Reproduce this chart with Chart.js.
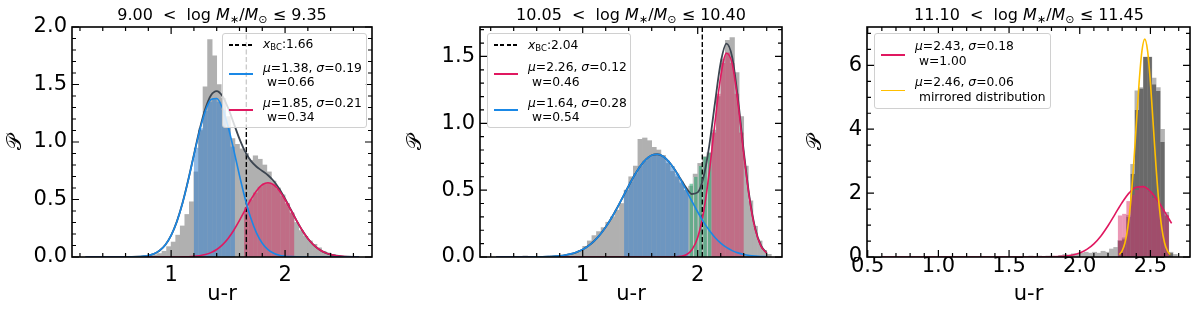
<!DOCTYPE html>
<html>
<head>
<meta charset="utf-8">
<script src="https://cdn.jsdelivr.net/npm/chart.js@4.4.1/dist/chart.umd.min.js"></script>
<style>
  body { margin: 0; background: #fff; font-family: "DejaVu Sans", sans-serif; }
  #wrap { position: relative; width: 1200px; height: 310px; overflow: hidden; }
  canvas { position: absolute; top: 0; }
  .ttl { position: absolute; top: 5px; font-size: 16px; line-height: 20px; white-space: nowrap; transform: translateX(-50%); color: #000; }
  .ttl sub { font-size: 11px; vertical-align: -3px; line-height: 0; }
  .lg { position: absolute; box-sizing: border-box; background: rgba(255,255,255,0.8); border: 1px solid #d0d0d0; border-radius: 3px; font-size: 12.3px; color: #000; }
  .lg .ln { position: absolute; left: 6px; width: 24px; height: 1.6px; }
  .lg .dash { background: repeating-linear-gradient(to right, #000 0 4px, transparent 4px 6.5px); }
  .lg .tx { position: absolute; left: 40px; line-height: 14.7px; white-space: nowrap; }
  .lg sub { font-size: 8.5px; vertical-align: -2px; line-height: 0; }
</style>
</head>
<body>
<div id="wrap">
  <canvas id="c1" width="400" height="310" style="left:0"></canvas>
  <canvas id="c2" width="400" height="310" style="left:400px"></canvas>
  <canvas id="c3" width="400" height="310" style="left:800px"></canvas>

  <div class="ttl" style="left:222px">9.00&nbsp;&nbsp;&lt;&nbsp;&nbsp;log <i>M</i><sub>∗</sub>/<i>M</i><sub>⊙</sub> ≤ 9.35</div>
  <div class="ttl" style="left:631px">10.05&nbsp;&nbsp;&lt;&nbsp;&nbsp;log <i>M</i><sub>∗</sub>/<i>M</i><sub>⊙</sub> ≤ 10.40</div>
  <div class="ttl" style="left:1029px">11.10&nbsp;&nbsp;&lt;&nbsp;&nbsp;log <i>M</i><sub>∗</sub>/<i>M</i><sub>⊙</sub> ≤ 11.45</div>

  <div class="lg" style="left:222px;top:33px;width:145px;height:95px">
    <div class="ln dash" style="top:10px"></div>
    <div class="tx" style="top:3px"><i>x</i><sub>BC</sub>:1.66</div>
    <div class="ln" style="top:39px;background:#1a88e6"></div>
    <div class="tx" style="top:26.5px"><i>μ</i>=1.38, <i>σ</i>=0.19<br>&nbsp;w=0.66</div>
    <div class="ln" style="top:75px;background:#e01860"></div>
    <div class="tx" style="top:61.5px"><i>μ</i>=1.85, <i>σ</i>=0.21<br>&nbsp;w=0.34</div>
  </div>
  <div class="lg" style="left:487px;top:33px;width:144px;height:95px">
    <div class="ln dash" style="top:10px"></div>
    <div class="tx" style="top:3.5px"><i>x</i><sub>BC</sub>:2.04</div>
    <div class="ln" style="top:39px;background:#e01860"></div>
    <div class="tx" style="top:26px"><i>μ</i>=2.26, <i>σ</i>=0.12<br>&nbsp;w=0.46</div>
    <div class="ln" style="top:75px;background:#1a88e6"></div>
    <div class="tx" style="top:61.5px"><i>μ</i>=1.64, <i>σ</i>=0.28<br>&nbsp;w=0.54</div>
  </div>
  <div class="lg" style="left:874px;top:33px;width:177px;height:76px">
    <div class="ln" style="top:20px;background:#e01860"></div>
    <div class="tx" style="top:5px"><i>μ</i>=2.43, <i>σ</i>=0.18<br>&nbsp;w=1.00</div>
    <div class="ln" style="top:55.5px;background:#ffbf00"></div>
    <div class="tx" style="top:41px"><i>μ</i>=2.46, <i>σ</i>=0.06<br>&nbsp;mirrored distribution</div>
  </div>
</div>

<script>
// ---------- panel 1 : 9.00 < log M <= 9.35 ----------
const binX1 = [0.70,0.74,0.78,0.82,0.86,0.90,0.94,0.98,1.02,1.06,1.10,1.14,1.18,1.22,1.26,1.30,1.34,1.38,1.42,1.46,1.50,1.54,1.58,1.62,1.66,1.70,1.74,1.78,1.82,1.86,1.90,1.94,1.98,2.02,2.06,2.10,2.14,2.18,2.22,2.26,2.30,2.34,2.38,2.42,2.46];
const hist1 = [0.004,0.006,0.01,0.012,0.02,0.03,0.05,0.09,0.13,0.19,0.27,0.37,0.48,0.74,1.10,1.48,1.89,1.75,1.50,1.38,1.22,1.03,0.98,0.94,0.90,0.84,0.88,0.85,0.80,0.74,0.66,0.60,0.54,0.46,0.38,0.30,0.23,0.18,0.14,0.11,0.08,0.05,0.035,0.02,0.01];
const blueX1 = [1.22,1.26,1.30,1.34,1.38,1.42,1.46,1.50,1.54];
const blueBars1 = [0.95,1.12,1.27,1.35,1.38,1.35,1.28,1.13,0.96];
const redX1 = [1.66,1.70,1.74,1.78,1.82,1.86,1.90,1.94,1.98,2.02,2.06];
const redBars1 = [0.43,0.50,0.56,0.61,0.64,0.645,0.63,0.59,0.53,0.47,0.39];
const curveX1 = [0.25,0.30,0.35,0.40,0.45,0.50,0.55,0.60,0.65,0.70,0.75,0.80,0.85,0.90,0.95,1.00,1.05,1.10,1.15,1.20,1.25,1.30,1.35,1.40,1.45,1.50,1.55,1.60,1.65,1.70,1.75,1.80,1.85,1.90,1.95,2.00,2.05,2.10,2.15,2.20,2.25,2.30,2.35,2.40,2.45,2.50,2.55,2.60,2.65];
const blueCurve1 = [0,0,0,0,0,0,0,0.0003,0.0009,0.0023,0.0057,0.013,0.028,0.057,0.107,0.188,0.307,0.468,0.666,0.885,1.097,1.268,1.369,1.378,1.295,1.135,0.929,0.709,0.505,0.336,0.208,0.120,0.065,0.033,0.015,0.007,0.003,0.001,0,0,0,0,0,0,0,0,0,0,0];
const redCurve1 = [0,0,0,0,0,0,0,0,0,0,0,0,0,0,0,0,0.0005,0.001,0.0025,0.0054,0.011,0.021,0.038,0.065,0.105,0.161,0.233,0.318,0.410,0.500,0.577,0.628,0.646,0.628,0.577,0.500,0.410,0.318,0.233,0.161,0.105,0.065,0.038,0.021,0.011,0.0054,0.0025,0.001,0.0005];
const totalCurve1 = [0,0,0,0,0,0,0,0.0003,0.0009,0.0023,0.0057,0.013,0.028,0.057,0.107,0.188,0.308,0.469,0.669,0.890,1.108,1.289,1.407,1.443,1.400,1.296,1.162,1.027,0.915,0.836,0.785,0.748,0.711,0.661,0.592,0.507,0.413,0.319,0.233,0.161,0.105,0.065,0.038,0.021,0.011,0.0054,0.0025,0.001,0.0005];
const xbc1 = 1.66;
const xTicks1 = [1, 2];
const yTicks1 = [0, 0.5, 1.0, 1.5, 2.0];

// ---------- panel 2 : 10.05 < log M <= 10.40 ----------
const binX2 = [0.50,0.70,0.74,0.78,0.82,0.86,0.90,0.94,0.98,1.02,1.06,1.10,1.14,1.18,1.22,1.26,1.30,1.34,1.38,1.42,1.46,1.50,1.54,1.58,1.62,1.66,1.70,1.74,1.78,1.82,1.86,1.90,1.94,1.98,2.02,2.06,2.10,2.14,2.18,2.22,2.26,2.30,2.34,2.38,2.42,2.46,2.50,2.54,2.58,2.62];
const hist2 = [0.008,0.005,0.008,0.01,0.01,0.015,0.02,0.03,0.05,0.08,0.12,0.16,0.19,0.22,0.26,0.30,0.35,0.40,0.50,0.60,0.68,0.88,0.89,0.87,0.82,0.80,0.76,0.70,0.64,0.60,0.55,0.50,0.53,0.62,0.70,0.75,0.78,0.95,1.20,1.48,1.62,1.64,1.38,1.05,0.68,0.42,0.23,0.12,0.05,0.02];
const blueX2 = [1.38,1.42,1.46,1.50,1.54,1.58,1.62,1.66,1.70,1.74,1.78,1.82,1.86,1.90];
const blueBars2 = [0.50,0.565,0.625,0.68,0.72,0.75,0.767,0.767,0.75,0.72,0.68,0.625,0.565,0.50];
const greenX2 = [1.94,1.98,2.02,2.06,2.10];
const greenBars2 = [0.55,0.60,0.68,0.75,0.78];
const redX2 = [2.14,2.18,2.22,2.26,2.30,2.34,2.38];
const redBars2 = [0.93,1.22,1.45,1.53,1.45,1.22,0.93];
const curveX2 = [0.25,0.30,0.35,0.40,0.45,0.50,0.55,0.60,0.65,0.70,0.75,0.80,0.85,0.90,0.95,1.00,1.05,1.10,1.15,1.20,1.25,1.30,1.35,1.40,1.45,1.50,1.55,1.60,1.65,1.70,1.75,1.80,1.85,1.90,1.95,2.00,2.05,2.10,2.15,2.20,2.25,2.30,2.35,2.40,2.45,2.50,2.55,2.60];
const blueCurve2 = [0,0,0,0,0.0001,0.0002,0.0004,0.0008,0.0015,0.0027,0.0049,0.0085,0.0144,0.0234,0.0369,0.0564,0.0835,0.1197,0.1663,0.2237,0.2915,0.3679,0.4499,0.5327,0.6108,0.6787,0.7303,0.7612,0.7685,0.7515,0.7119,0.6531,0.5805,0.4997,0.4167,0.3365,0.2632,0.1995,0.1464,0.1041,0.0717,0.0478,0.0309,0.0193,0.0117,0.0069,0.0039,0.0022];
const redCurve2 = [0,0,0,0,0,0,0,0,0,0,0,0,0,0,0,0,0,0,0,0,0,0,0,0,0,0,0,0,0,0.0001,0.0002,0.001,0.0045,0.017,0.054,0.146,0.331,0.629,1.005,1.349,1.524,1.446,1.154,0.774,0.437,0.207,0.082,0.028];
const totalCurve2 = [0,0,0,0,0.0001,0.0002,0.0004,0.0008,0.0015,0.0027,0.0049,0.0085,0.0144,0.0234,0.0369,0.0564,0.0835,0.1197,0.1663,0.2237,0.2915,0.3679,0.4499,0.5327,0.6108,0.6787,0.7303,0.7612,0.7685,0.7516,0.7121,0.6541,0.585,0.517,0.471,0.483,0.594,0.829,1.151,1.453,1.596,1.494,1.185,0.793,0.449,0.214,0.086,0.030];
const xbc2 = 2.04;
const xTicks2 = [1, 2];
const yTicks2 = [0, 0.5, 1.0, 1.5];

// ---------- panel 3 : 11.10 < log M <= 11.45 ----------
const binX3 = [1.655,1.685,1.715,1.745,1.775,1.805,1.835,1.865,1.895,1.925,1.955,1.985,2.015,2.045,2.075,2.105,2.135,2.165,2.195,2.225,2.255,2.285,2.315,2.345,2.375,2.405,2.435,2.465,2.495,2.525,2.555,2.585,2.615,2.645,2.675];
const hist3 = [0.03,0.02,0.03,0.02,0.03,0.03,0.02,0.05,0.08,0.06,0.10,0.08,0.12,0.15,0.12,0.15,0.12,0.18,0.15,0.25,0.30,0.52,0.60,1.30,2.90,5.20,5.30,6.26,6.26,5.60,5.30,4.00,1.40,0.15,0.08];
const mirrorX3 = [2.285,2.315,2.345,2.375,2.405,2.435,2.465,2.495,2.525,2.555,2.585,2.615,2.645];
const mirror3 = [0.50,0.55,1.25,2.60,4.60,5.27,6.26,6.26,5.40,5.20,3.60,1.30,0.12];
const pinkX3 = [2.285,2.315,2.345,2.375,2.405,2.435,2.465,2.495,2.525,2.555,2.585,2.615];
const pinkBars3 = [1.30,1.35,1.75,1.95,2.10,2.20,2.15,2.05,1.85,1.75,1.50,1.30];
const redCurveX3 = [0.60,0.80,1.00,1.20,1.40,1.60,1.70,1.75,1.80,1.85,1.90,1.95,2.00,2.05,2.10,2.15,2.20,2.25,2.30,2.35,2.40,2.45,2.50,2.55,2.60,2.65];
const redCurve3 = [0,0,0,0,0,0.0001,0.0006,0.0018,0.0048,0.0123,0.029,0.063,0.128,0.239,0.413,0.661,0.980,1.344,1.707,2.008,2.185,2.202,2.055,1.774,1.419,1.050];
const yellowX3 = [2.28,2.30,2.32,2.34,2.36,2.38,2.40,2.42,2.44,2.46,2.48,2.50,2.52,2.54,2.56,2.58,2.60,2.62,2.64];
const yellowCurve3 = [0.076,0.195,0.448,0.923,1.701,2.804,4.136,5.461,6.451,6.82,6.451,5.461,4.136,2.804,1.701,0.923,0.448,0.195,0.076];
const xTicks3 = [0.5, 1.0, 1.5, 2.0, 2.5];
const yTicks3 = [0, 2, 4, 6];

// colores
const grayFill = '#b0b0b0';
const blueFill = 'rgba(55,130,205,0.55)';
const redFill = 'rgba(205,55,100,0.55)';
const greenFill = 'rgba(40,165,110,0.55)';
const blueLine = '#1a88e6';
const redLine = '#e01860';
const totalLine = '#3c4550';
const yellowLine = '#ffbf00';

Chart.defaults.font.family = "'DejaVu Sans', sans-serif";
Chart.defaults.color = '#000';

// marco negro con ticks hacia adentro en los 4 lados
const framePlugin = {
  id: 'frame',
  afterDatasetsDraw(chart, args, o) {
    const ctx = chart.ctx, a = chart.chartArea, x = chart.scales.x, y = chart.scales.y;
    ctx.save();
    ctx.strokeStyle = '#000';
    ctx.lineWidth = 1.2;
    ctx.beginPath();
    const seg = (x0, y0, x1, y1) => { ctx.moveTo(x0, y0); ctx.lineTo(x1, y1); };
    const xMarks = (step, len) => {
      for (let k = Math.ceil(x.min / step - 1e-9); k * step <= x.max + 1e-9; k++) {
        const px = x.getPixelForValue(k * step);
        seg(px, a.bottom, px, a.bottom - len);
        seg(px, a.top, px, a.top + len);
      }
    };
    const yMarks = (step, len) => {
      for (let k = Math.ceil(y.min / step - 1e-9); k * step <= y.max + 1e-9; k++) {
        const py = y.getPixelForValue(k * step);
        seg(a.left, py, a.left + len, py);
        seg(a.right, py, a.right - len, py);
      }
    };
    xMarks(o.xMinor, 4);
    yMarks(o.yMinor, 4);
    x.ticks.forEach(t => { const px = x.getPixelForValue(t.value); seg(px, a.bottom, px, a.bottom - 7); seg(px, a.top, px, a.top + 7); });
    y.ticks.forEach(t => { const py = y.getPixelForValue(t.value); seg(a.left, py, a.left + 7, py); seg(a.right, py, a.right - 7, py); });
    ctx.stroke();
    ctx.lineWidth = 1.6;
    ctx.strokeRect(a.left, a.top, a.right - a.left, a.bottom - a.top);
    ctx.restore();
  }
};

function histSet(xs, ys, color, order, extra) {
  return Object.assign({
    type: 'bar',
    data: xs.map((v, i) => ({ x: v, y: ys[i] })),
    backgroundColor: color,
    borderWidth: 0,
    barPercentage: 1,
    categoryPercentage: 1,
    grouped: false,
    order: order
  }, extra || {});
}

function curveSet(xs, ys, color, order, width) {
  return {
    type: 'line',
    data: xs.map((v, i) => ({ x: v, y: ys[i] })),
    borderColor: color,
    borderWidth: width || 1.6,
    pointRadius: 0,
    fill: false,
    cubicInterpolationMode: 'monotone',
    order: order
  };
}

function vline(xv, ymax) {
  return {
    type: 'line',
    data: [{ x: xv, y: 0 }, { x: xv, y: ymax }],
    borderColor: '#000',
    borderWidth: 1.4,
    borderDash: [5, 2.5],
    pointRadius: 0,
    fill: false,
    order: 2
  };
}

function makeChart(id, p) {
  return new Chart(document.getElementById(id), {
    type: 'bar',
    data: { datasets: p.datasets },
    plugins: [framePlugin],
    options: {
      responsive: false,
      animation: false,
      events: [],
      layout: { padding: { left: 0, right: p.padRight, top: 27, bottom: 0 } },
      plugins: {
        legend: { display: false },
        tooltip: { enabled: false },
        frame: { xMinor: p.xMinor, yMinor: p.yMinor }
      },
      scales: {
        x: {
          type: 'linear', min: p.xMin, max: p.xMax, offset: false,
          grid: { display: false, drawTicks: false },
          border: { display: false },
          ticks: { font: { size: 21 }, color: '#000', padding: p.xPad, autoSkip: false, maxRotation: 0, callback: p.xFmt },
          afterBuildTicks: s => { s.ticks = p.xTicks.map(v => ({ value: v })); },
          afterFit: s => { s.height = 53; s.paddingLeft = 0; s.paddingRight = 0; },
          title: { display: true, text: 'u-r', font: { size: 21 }, color: '#000', padding: { top: 0, bottom: 3 } }
        },
        y: {
          type: 'linear', min: 0, max: p.yMax,
          grid: { display: false, drawTicks: false },
          border: { display: false },
          ticks: { font: { size: 21 }, color: '#000', padding: 5, autoSkip: false, callback: p.yFmt },
          afterBuildTicks: s => { s.ticks = p.yTicks.map(v => ({ value: v })); },
          afterFit: s => { s.width = p.yWidth; s.paddingTop = 0; s.paddingBottom = 0; },
          title: { display: true, text: '𝒫', font: { size: 21, family: "'DejaVu Sans', 'DejaVu Serif', serif" }, color: '#000', padding: { top: 3, bottom: 0 } }
        }
      }
    }
  });
}

const f0 = v => String(v);
const f1 = v => Number(v).toFixed(1);

makeChart('c1', {
  xMin: 0.13, xMax: 2.763, yMax: 2.0, padRight: 28, yWidth: 72, xPad: 6,
  xMinor: 0.2, yMinor: 0.1, xTicks: xTicks1, yTicks: yTicks1, xFmt: f0, yFmt: f1,
  datasets: [
    curveSet(curveX1, blueCurve1, blueLine, 0),
    curveSet(curveX1, redCurve1, redLine, 0),
    curveSet(curveX1, totalCurve1, totalLine, 1, 1.8),
    vline(xbc1, 2.0),
    histSet(blueX1, blueBars1, blueFill, 3, { inflateAmount: 0 }),
    histSet(redX1, redBars1, redFill, 3, { inflateAmount: 0 }),
    histSet(binX1, hist1, grayFill, 4)
  ]
});

makeChart('c2', {
  xMin: 0.107, xMax: 2.733, yMax: 1.72, padRight: 18, yWidth: 80, xPad: 6,
  xMinor: 0.2, yMinor: 0.1, xTicks: xTicks2, yTicks: yTicks2, xFmt: f0, yFmt: f1,
  datasets: [
    curveSet(curveX2, blueCurve2, blueLine, 0),
    curveSet(curveX2, redCurve2, redLine, 0),
    curveSet(curveX2, totalCurve2, totalLine, 1, 1.8),
    vline(xbc2, 1.72),
    histSet(blueX2, blueBars2, blueFill, 3, { inflateAmount: 0 }),
    histSet(greenX2, greenBars2, greenFill, 3, { inflateAmount: 0, borderColor: 'rgba(255,255,255,0.35)', borderWidth: { left: 1 } }),
    histSet(redX2, redBars2, redFill, 3, { inflateAmount: 0 }),
    histSet(binX2, hist2, grayFill, 4)
  ]
});

makeChart('c3', {
  xMin: 0.495, xMax: 2.78, yMax: 7.2, padRight: 10, yWidth: 67, xPad: -3,
  xMinor: 0.1, yMinor: 0.5, xTicks: xTicks3, yTicks: yTicks3, xFmt: f1, yFmt: f0,
  datasets: [
    curveSet(yellowX3, yellowCurve3, yellowLine, 0),
    curveSet(redCurveX3, redCurve3, redLine, 0),
    histSet(pinkX3, pinkBars3, 'rgba(215,50,110,0.5)', 3, { inflateAmount: 0 }),
    histSet(mirrorX3, mirror3, 'rgba(60,60,60,0.62)', 4, { inflateAmount: 0 }),
    histSet(binX3, hist3, '#b4b4b4', 5)
  ]
});
</script>
</body>
</html>
